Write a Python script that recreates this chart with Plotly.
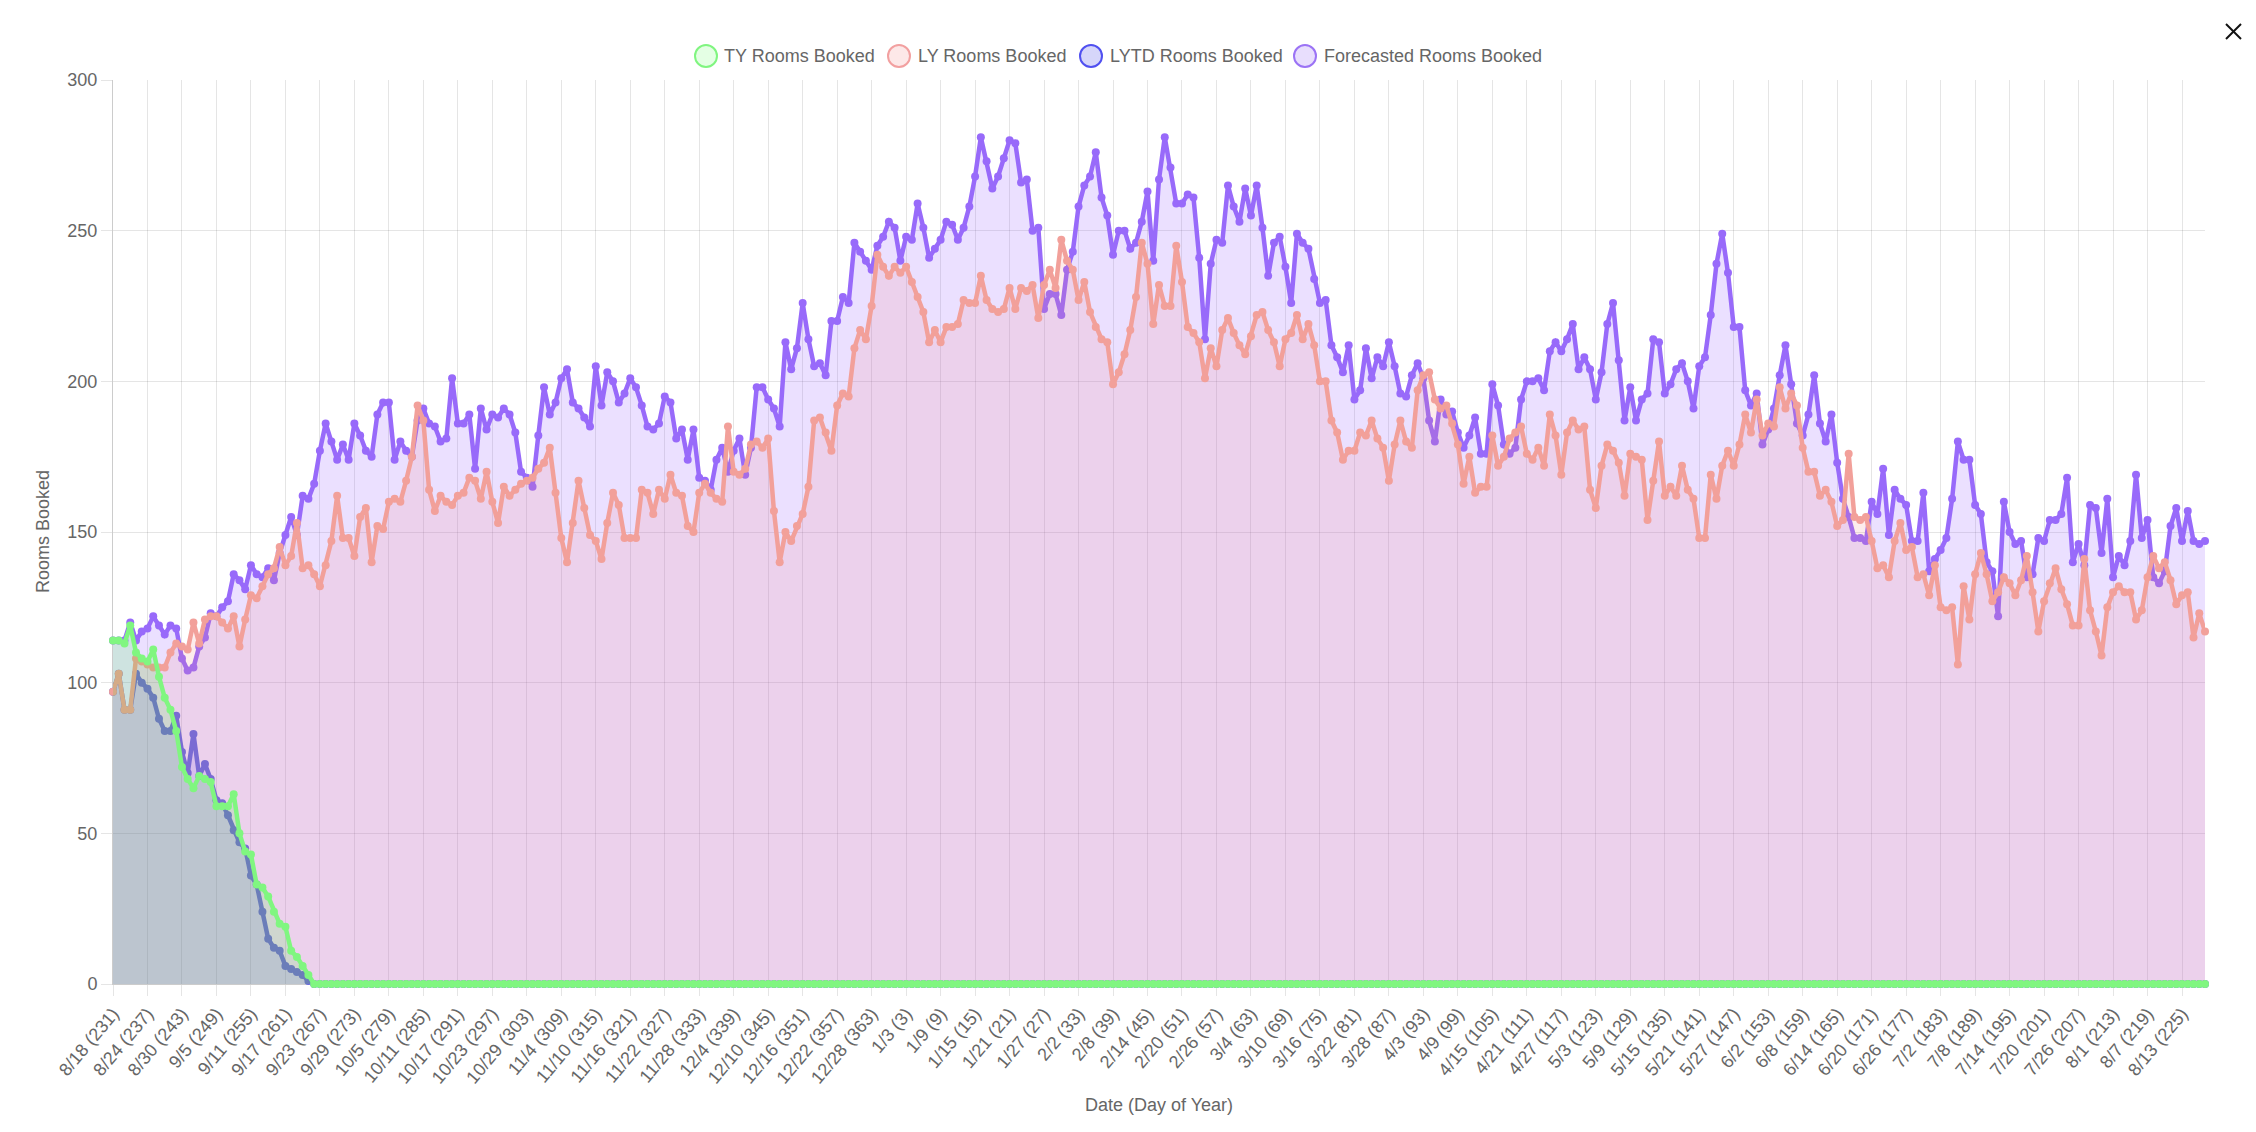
import pandas as pd
import plotly.graph_objects as go

# ---------------- data ----------------
start_date = "2024-08-18"
dates = pd.date_range(start_date, periods=365, freq="D")
categories = [f"{d.month}/{d.day} ({d.dayofyear})" for d in dates]
x_idx = list(range(len(categories)))
tick_idx = list(range(0, len(categories), 6))
tick_labels = [categories[i] for i in tick_idx]

ty_booked = [114, 114, 113, 119, 110, 108, 107, 111, 102, 95,
             91, 84, 72, 68, 65, 69, 68, 67, 59, 59,
             59, 63, 50, 44, 43, 33, 32, 29, 24, 20,
             19, 11, 9, 6, 3] + [0] * 330

lytd_booked = [97, 103, 91, 91, 103, 100, 98, 95, 88, 84,
               84, 89, 77, 70, 83, 69, 73, 68, 61, 60,
               56, 51, 47, 45, 36, 33, 24, 15, 12, 11,
               6, 5, 4, 3, 1] + [0] * 330

ly_booked = [
    97, 103, 91, 91, 108, 107, 106, 105, 105, 105,
    110, 113, 112, 111, 120, 113, 121, 122, 122, 120,
    118, 122, 112, 121, 129, 128, 132, 136, 138, 145,
    139, 142, 153, 138, 139, 136, 132, 139, 147, 162,
    148, 148, 142, 155, 158, 140, 152, 151, 160, 161,
    160, 167, 175, 192, 187, 164, 157, 162, 160, 159,
    162, 163, 168, 167, 161, 170, 160, 153, 165, 162,
    164, 166, 167, 168, 171, 173, 178, 163, 148, 140,
    153, 167, 158, 149, 147, 141, 153, 163, 159, 148,
    148, 148, 164, 163, 156, 164, 161, 169, 163, 162,
    152, 150, 163, 166, 163, 161, 160, 185, 170, 169,
    171, 179, 180, 178, 181, 157, 140, 150, 147, 152,
    156, 165, 187, 188, 183, 177, 192, 196, 195, 211,
    217, 214, 225, 242, 238, 235, 238, 236, 238, 233,
    228, 223, 213, 217, 213, 218, 218, 219, 227, 226,
    226, 235, 227, 224, 223, 224, 231, 224, 231, 230,
    232, 221, 232, 237, 231, 247, 240, 237, 227, 233,
    223, 218, 214, 213, 199, 203, 209, 217, 228, 246,
    239, 219, 232, 225, 225, 245, 233, 218, 216, 213,
    201, 211, 205, 217, 221, 216, 212, 209, 215, 222,
    223, 217, 213, 205, 214, 216, 222, 214, 219, 212,
    200, 200, 187, 183, 174, 177, 177, 183, 182, 187,
    181, 178, 167, 179, 187, 180, 178, 197, 202, 203,
    194, 191, 192, 186, 179, 166, 175, 163, 165, 165,
    182, 172, 175, 181, 183, 185, 176, 174, 178, 172,
    189, 182, 169, 183, 187, 184, 185, 164, 158, 172,
    179, 177, 173, 162, 176, 175, 174, 154, 167, 180,
    162, 165, 162, 172, 164, 161, 148, 148, 169, 161,
    172, 177, 172, 179, 189, 183, 194, 182, 186, 185,
    198, 191, 196, 192, 178, 170, 170, 162, 164, 160,
    152, 154, 176, 155, 154, 155, 147, 138, 139, 135,
    147, 153, 144, 145, 135, 136, 129, 139, 125, 124,
    125, 106, 132, 121, 136, 143, 136, 127, 130, 135,
    133, 129, 134, 142, 130, 117, 127, 133, 138, 131,
    126, 119, 119, 141, 124, 117, 109, 125, 130, 132,
    130, 130, 121, 124, 135, 142, 138, 140, 134, 126,
    129, 130, 115, 123, 117,
]

forecast_booked = [
    114, 114, 114, 120, 114, 117, 118, 122, 119, 116,
    119, 118, 108, 104, 105, 112, 115, 123, 122, 125,
    127, 136, 134, 131, 139, 136, 135, 138, 134, 143,
    149, 155, 149, 162, 161, 166, 177, 186, 180, 174,
    179, 174, 186, 182, 177, 175, 189, 193, 193, 174,
    180, 177, 175, 187, 191, 186, 185, 180, 181, 201,
    186, 186, 189, 171, 191, 184, 189, 188, 191, 189,
    183, 170, 168, 165, 182, 198, 189, 193, 201, 204,
    193, 191, 188, 185, 205, 192, 203, 200, 193, 196,
    201, 198, 192, 185, 184, 186, 195, 193, 181, 184,
    174, 184, 168, 167, 164, 174, 178, 170, 177, 181,
    169, 178, 198, 198, 194, 191, 185, 213, 204, 211,
    226, 214, 205, 206, 202, 220, 220, 228, 226, 246,
    243, 240, 237, 245, 248, 253, 251, 240, 248, 247,
    259, 251, 241, 244, 247, 253, 252, 247, 251, 258,
    268, 281, 273, 264, 268, 274, 280, 279, 266, 267,
    250, 251, 224, 229, 229, 222, 237, 243, 258, 265,
    268, 276, 261, 255, 242, 250, 250, 244, 246, 253,
    263, 240, 267, 281, 271, 259, 259, 262, 261, 241,
    214, 239, 247, 246, 265, 258, 253, 264, 255, 265,
    251, 235, 246, 248, 238, 226, 249, 246, 244, 234,
    226, 227, 212, 208, 203, 212, 194, 197, 211, 201,
    208, 205, 213, 205, 196, 195, 202, 206, 201, 187,
    180, 194, 189, 190, 183, 178, 182, 188, 176, 176,
    199, 192, 179, 176, 178, 194, 200, 200, 201, 197,
    210, 213, 210, 214, 219, 204, 208, 204, 194, 203,
    219, 226, 207, 187, 198, 187, 194, 196, 214, 213,
    196, 199, 204, 206, 200, 191, 205, 208, 222, 239,
    249, 236, 218, 218, 197, 192, 196, 179, 184, 191,
    202, 212, 199, 186, 182, 189, 202, 186, 180, 189,
    173, 161, 155, 148, 148, 147, 160, 156, 171, 149,
    164, 161, 159, 147, 147, 163, 137, 141, 144, 148,
    161, 180, 174, 174, 159, 156, 140, 137, 122, 160,
    150, 146, 147, 135, 136, 148, 147, 154, 154, 156,
    168, 140, 146, 139, 159, 158, 143, 161, 135, 142,
    139, 147, 169, 148, 154, 135, 133, 137, 152, 158,
    147, 157, 147, 146, 147,
]

series_names = ["TY Rooms Booked", "LY Rooms Booked", "LYTD Rooms Booked", "Forecasted Rooms Booked"]

# ---------------- styles ----------------
W, H = 2256, 1132
PL, PR, PT, PB = 113, 2205, 80, 984
FONT = "Arial, Liberation Sans, sans-serif"
GREY = "#666666"
GRID = "rgba(0,0,0,0.1)"

styles = {
    "Forecasted Rooms Booked": dict(line="rgb(152,106,250)", fill="rgba(153,102,255,0.2)",
                                    leg_line="rgb(155,115,245)", leg_fill="rgb(232,222,253)"),
    "LYTD Rooms Booked": dict(line="rgb(102,104,226)", fill="rgba(0,0,255,0.1)",
                              leg_line="rgb(80,80,240)", leg_fill="rgb(214,214,250)"),
    "LY Rooms Booked": dict(line="rgb(242,160,154)", fill="rgba(240,128,128,0.15)",
                            leg_line="rgb(242,160,160)", leg_fill="rgb(253,232,232)"),
    "TY Rooms Booked": dict(line="rgb(128,246,128)", fill="rgba(0,255,0,0.12)",
                            leg_line="rgb(128,245,128)", leg_fill="rgb(228,255,228)"),
}
values = {
    "TY Rooms Booked": ty_booked,
    "LY Rooms Booked": ly_booked,
    "LYTD Rooms Booked": lytd_booked,
    "Forecasted Rooms Booked": forecast_booked,
}

fig = go.Figure()
for name in ["Forecasted Rooms Booked", "LYTD Rooms Booked", "LY Rooms Booked", "TY Rooms Booked"]:
    st = styles[name]
    fig.add_trace(go.Scatter(
        x=x_idx, y=values[name], name=name, mode="lines+markers",
        line=dict(color=st["line"], width=4.5),
        marker=dict(color=st["line"], size=8),
        fill="tozeroy", fillcolor=st["fill"],
        customdata=categories, hovertemplate="%{customdata}: %{y}<extra>" + name + "</extra>",
        showlegend=False, cliponaxis=False,
    ))


def px_x(px):
    return (px - PL) / (PR - PL)


def px_y(py):
    return (PB - py) / (PB - PT)


shapes = []
annotations = []
# legend (Chart.js style: circle + label)
legend_pos = [(706, 722), (899, 916), (1091, 1108), (1305, 1322)]
for name, (cx, tx) in zip(series_names, legend_pos):
    st = styles[name]
    shapes.append(dict(type="circle", xref="paper", yref="paper",
                       xsizemode="pixel", ysizemode="pixel",
                       xanchor=px_x(cx), yanchor=px_y(56),
                       x0=-11, x1=11, y0=-11, y1=11,
                       line=dict(color=st["leg_line"], width=2), fillcolor=st["leg_fill"]))
    annotations.append(dict(text=name, xref="paper", yref="paper", x=px_x(tx), y=px_y(56),
                            xanchor="left", yanchor="middle", showarrow=False,
                            font=dict(family=FONT, size=18, color=GREY)))

# axis titles
annotations.append(dict(text="Rooms Booked", xref="paper", yref="paper", x=px_x(43), y=0.5,
                        textangle=-90, xanchor="center", yanchor="middle", showarrow=False,
                        font=dict(family=FONT, size=18, color=GREY)))
annotations.append(dict(text="Date (Day of Year)", xref="paper", yref="paper", x=0.5, y=px_y(1105),
                        xanchor="center", yanchor="middle", showarrow=False,
                        font=dict(family=FONT, size=18, color=GREY)))

# close icon
shapes.append(dict(type="line", xref="paper", yref="paper", x0=px_x(2226), x1=px_x(2241),
                   y0=px_y(24), y1=px_y(39), line=dict(color="#111", width=2)))
shapes.append(dict(type="line", xref="paper", yref="paper", x0=px_x(2226), x1=px_x(2241),
                   y0=px_y(39), y1=px_y(24), line=dict(color="#111", width=2)))

fig.update_layout(
    width=W, height=H,
    margin=dict(l=PL, r=W - PR, t=PT, b=H - PB, autoexpand=False),
    paper_bgcolor="white", plot_bgcolor="white",
    showlegend=False,
    shapes=shapes, annotations=annotations,
    font=dict(family=FONT, size=18, color=GREY),
    xaxis=dict(range=[0, len(categories) - 1], tickmode="array", tickvals=tick_idx, ticktext=tick_labels,
               tickangle=-50, tickfont=dict(family=FONT, size=18, color=GREY),
               showgrid=True, gridcolor=GRID, gridwidth=1,
               ticks="outside", ticklen=11, tickcolor=GRID,
               showline=True, linecolor="rgba(0,0,0,0.2)", zeroline=False, layer="below traces"),
    yaxis=dict(range=[0, 300], tickmode="linear", tick0=0, dtick=50,
               tickfont=dict(family=FONT, size=18, color=GREY),
               showgrid=True, gridcolor=GRID, gridwidth=1,
               ticks="outside", ticklen=11, tickcolor=GRID,
               showline=True, linecolor="rgba(0,0,0,0.2)", zeroline=False, layer="below traces"),
)

fig.write_html("out.html", config={"displayModeBar": False})
